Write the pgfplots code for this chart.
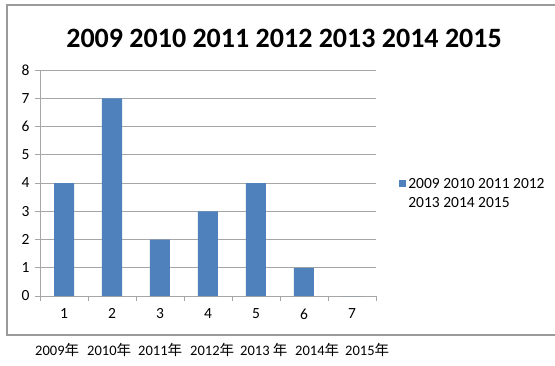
\documentclass[border=0pt]{standalone}
\usepackage{fontspec}
\setmainfont{Carlito}
\newfontfamily\cjk{Noto Sans CJK SC}
\usepackage{pgfplots}
\pgfplotsset{compat=1.18}
\definecolor{barblue}{HTML}{4F81BD}
\definecolor{axgray}{HTML}{A6A6A6}
\definecolor{boxgray}{HTML}{9A9A9A}
\begin{document}
\begin{tikzpicture}[x=1pt,y=1pt]
\path[use as bounding box] (0,0) rectangle (555,365);
\draw[line width=1.8pt, draw=boxgray] (556,360) -- (7,360) -- (7,30) -- (556,30);
\node[font=\bfseries\fontsize{28}{30}\selectfont] at (284,327) {2009 2010 2011 2012 2013 2014 2015};
\begin{axis}[
  at={(40pt,69pt)}, anchor=south west,
  scale only axis, width=336pt, height=226pt,
  xmin=0.5, xmax=7.5, ymin=0, ymax=8,
  ytick={0,1,...,8}, xtick={1,...,7},
  minor xtick={0.5,1.5,...,7.5},
  axis lines*=left,
  axis line style={draw=axgray, line width=0.9pt, -},
  ymajorgrids, grid style={draw=axgray, line width=0.9pt},
  tick align=outside,
  major tick length=5pt, minor tick length=5pt,
  major x tick style={draw=none},
  minor x tick style={draw=axgray, line width=0.9pt},
  y tick style={draw=axgray, line width=0.9pt},
  tick label style={font=\fontsize{15.5}{15.5}\selectfont},
  /pgf/number format/assume math mode=true,
  yticklabel style={xshift=-2pt},
  xticklabel style={yshift=-4pt},
  ybar, bar width=20pt,
  legend style={at={(1.06,0.5)}, anchor=west, draw=none, font=\fontsize{15.5}{19}\selectfont, legend cell align=left},
  legend image code/.code={\fill[barblue] (0pt,-3.5pt) rectangle (7pt,3.5pt);},
]
\addplot[fill=barblue, draw=none] coordinates {(1,4) (2,7) (3,2) (4,3) (5,4) (6,1) (7,0)};
\addlegendentry{\begin{tabular}[t]{@{}l@{}}2009 2010 2011 2012\\2013 2014 2015\end{tabular}}
\end{axis}
\begin{scope}[every node/.style={anchor=west, inner sep=0pt, font=\fontsize{14.5}{15}\selectfont}]
\node at (35,15) {2009{\cjk 年}};
\node at (87,15) {2010{\cjk 年}};
\node at (138,15) {2011{\cjk 年}};
\node at (190,15) {2012{\cjk 年}};
\node at (240,15) {2013 {\cjk 年}};
\node at (295,15) {2014{\cjk 年}};
\node at (345,15) {2015{\cjk 年}};
\end{scope}
\end{tikzpicture}
\end{document}
